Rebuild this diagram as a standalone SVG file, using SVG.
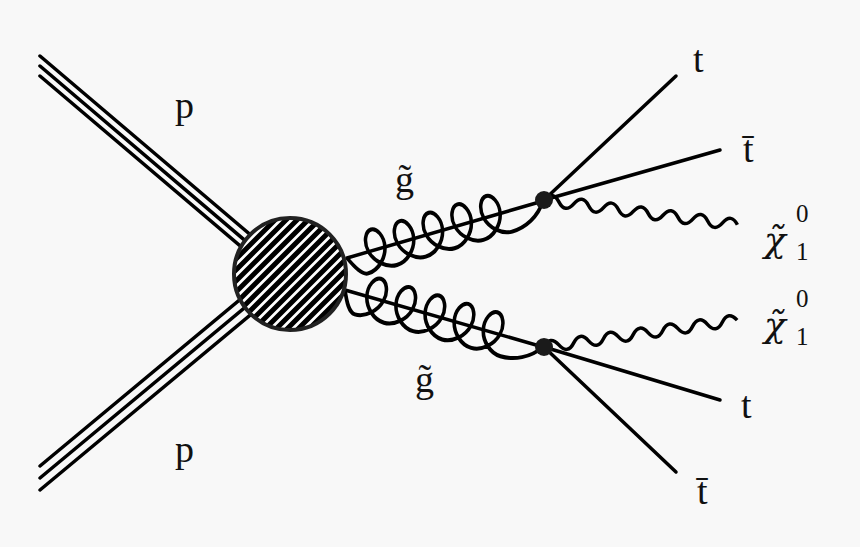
<svg xmlns="http://www.w3.org/2000/svg" width="860" height="547" viewBox="0 0 860 547">
<style>
.l{stroke:#000;stroke-width:3.5;fill:none;stroke-linecap:round}
.g{stroke:#000;stroke-width:3.5;fill:none}
.t{font-family:"Liberation Serif","Times New Roman","DejaVu Serif",serif;font-size:38px;fill:#111}
.c{font-family:"DejaVu Serif",serif;font-size:36px;font-style:italic;fill:#111}
.s{font-family:"Liberation Serif","Times New Roman","DejaVu Serif",serif;font-size:25px;fill:#111}
</style>
<defs>
<clipPath id="cc"><circle cx="290" cy="274" r="56"/></clipPath>
<path id="gl" d="M0,0 C5,10 10,18 16,18 c10.88,0 21,-8.58 23.5,-18 c2.5,-9.420 -2.62,-18 -8.5,-18 c-5.88,0 -11,8.58 -8.5,18 c2.5,9.42 12.62,18 23.5,18 c10.88,0 21,-8.58 23.5,-18 c2.5,-9.42 -2.62,-18 -8.5,-18 c-5.88,0 -11,8.58 -8.5,18 c2.5,9.42 12.62,18 23.5,18 c10.88,0 21,-8.58 23.5,-18 c2.5,-9.42 -2.62,-18 -8.5,-18 c-5.88,0 -11,8.58 -8.5,18 c2.5,9.42 12.62,18 23.5,18 c10.88,0 21,-8.58 23.5,-18 c2.5,-9.42 -2.62,-18 -8.5,-18 c-5.88,0 -11,8.58 -8.5,18 c2.5,9.42 12.62,18 23.5,18 c10.88,0 21,-8.58 23.5,-18 c2.5,-9.42 -2.62,-18 -8.5,-18 c-5.88,0 -11,8.58 -8.5,18 c2.5,9.42 12.62,18 23.5,18 C180,18 195,12 204,0"/>
<path id="wv" d="M0,0 q7.5,-11 15,0 t15,0 t15,0 t15,0 t15,0 t15,0 t15,0 t15,0 t15,0 t15,0 t15,0 t15,0 t15,0"/>
</defs>
<rect width="860" height="547" fill="#f8f8f8"/>
<g id="connectors">
<g id="p-upper" class="l">
<line x1="40" y1="56" x2="286" y2="265"/>
<line x1="40" y1="66" x2="282" y2="272"/>
<line x1="40" y1="76" x2="278" y2="278"/>
</g>
<g id="p-lower" class="l">
<line x1="40" y1="466" x2="278" y2="268"/>
<line x1="40" y1="478" x2="284" y2="275"/>
<line x1="40" y1="490" x2="290" y2="282"/>
</g>
<line class="l" x1="347" y1="258" x2="543" y2="201"/>
<line class="l" x1="345" y1="290" x2="543" y2="347"/>
<use href="#gl" class="g" transform="translate(347,258) rotate(-16.2) scale(1,1.15)"/>
<use href="#gl" class="g" transform="translate(345,290) rotate(16.06) scale(1.01,1.15)"/>
<line class="l" x1="544" y1="200" x2="676" y2="76"/>
<line class="l" x1="544" y1="200" x2="720" y2="150"/>
<line class="l" x1="544" y1="347" x2="720" y2="400"/>
<line class="l" x1="544" y1="347" x2="676" y2="472"/>
<use href="#wv" class="g" transform="translate(544,200) rotate(7.3)"/>
<use href="#wv" class="g" transform="translate(544,347) rotate(-7.9)"/>
</g>
<g id="blob">
<circle cx="290" cy="274" r="56" fill="#fff"/>
<g clip-path="url(#cc)" stroke="#000" stroke-width="5">
<path d="M220,264 l140,-140 M220,275 l140,-140 M220,286 l140,-140 M220,297 l140,-140 M220,308 l140,-140 M220,319 l140,-140 M220,330 l140,-140 M220,341 l140,-140 M220,352 l140,-140 M220,363 l140,-140 M220,374 l140,-140 M220,385 l140,-140 M220,396 l140,-140 M220,407 l140,-140 M220,418 l140,-140 M220,429 l140,-140"/>
</g>
<circle cx="290" cy="274" r="56" fill="none" stroke="#222" stroke-width="4"/>
</g>
<g id="v1"><circle cx="544" cy="200" r="9" fill="#1a1a1a"/></g>
<g id="v2"><circle cx="544" cy="347" r="9" fill="#1a1a1a"/></g>
<g id="labels">
<text class="t" x="175" y="118">p</text>
<text class="t" x="175" y="462">p</text>
<text class="t" x="395" y="192">g̃</text>
<text class="t" x="415" y="392">g̃</text>
<text class="t" x="693" y="72">t</text>
<text class="t" x="743" y="162">t̄</text>
<text class="t" x="741" y="418">t</text>
<text class="t" x="697" y="504">t̄</text>
<text class="c" x="764" y="252">χ̃</text>
<text class="s" x="796" y="222">0</text>
<text class="s" x="796" y="260">1</text>
<text class="c" x="764" y="337">χ̃</text>
<text class="s" x="796" y="307">0</text>
<text class="s" x="796" y="345">1</text>
</g>
</svg>
